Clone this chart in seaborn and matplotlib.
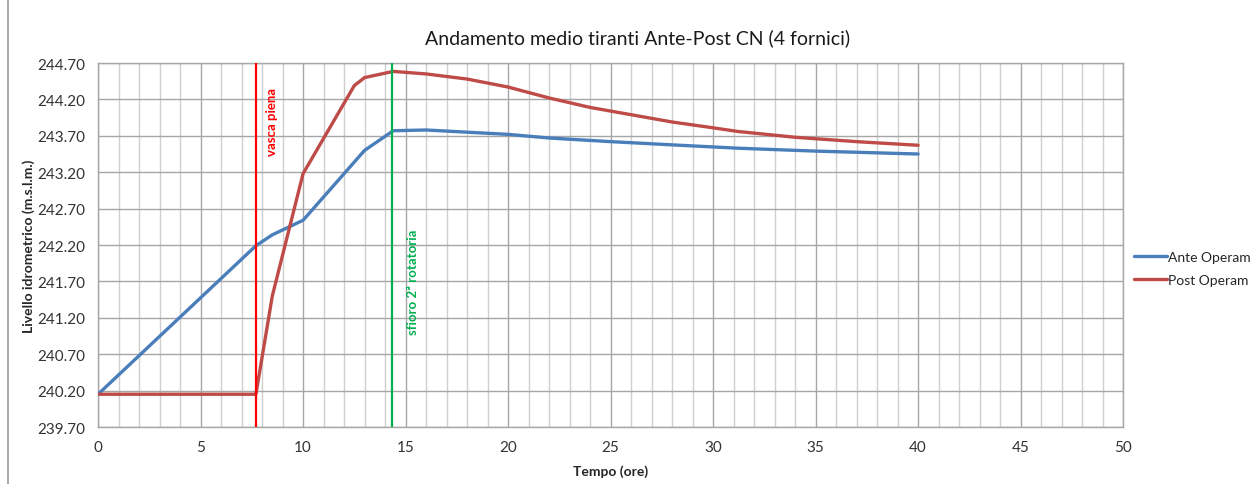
import numpy as np
import pandas as pd
import matplotlib
matplotlib.use("Agg")
import matplotlib.pyplot as plt
from matplotlib.ticker import MultipleLocator, FormatStrFormatter
from matplotlib.lines import Line2D
import seaborn as sns

# values
ante_t = [0, 7.7, 8.5, 10, 13, 14.4, 16, 18, 20, 22, 25, 28.4, 31.2, 35, 40]
ante_y = [240.15, 242.19, 242.34, 242.54, 243.50, 243.77, 243.78, 243.75, 243.72, 243.67, 243.62, 243.57, 243.53, 243.49, 243.45]

post_t = [0, 7.7, 8.5, 10, 12.5, 13, 14.4, 16, 18, 20, 22, 24, 26, 28, 30, 31.2, 34, 37, 40]
post_y = [240.15, 240.15, 241.50, 243.18, 244.39, 244.50, 244.585, 244.55, 244.48, 244.37, 244.22, 244.09, 243.99, 243.89, 243.81, 243.76, 243.68, 243.62, 243.57]

series_names = ["Ante Operam", "Post Operam"]
series_colors = ["#4A7EBB", "#BE4B48"]

event_t = [7.7, 14.35]
event_labels = ["vasca piena", "sfioro 2ª rotatoria"]
event_colors = ["#FF0000", "#00B050"]

y_ticks = [239.70, 240.20, 240.70, 241.20, 241.70, 242.20, 242.70, 243.20, 243.70, 244.20, 244.70]

df = pd.concat([
    pd.DataFrame({"Tempo": ante_t, "Livello": ante_y, "Serie": series_names[0]}),
    pd.DataFrame({"Tempo": post_t, "Livello": post_y, "Serie": series_names[1]}),
])

sns.set_theme(style="white")
plt.rcParams["font.family"] = ["Lato", "DejaVu Sans"]

fig = plt.figure(figsize=(12.57, 4.85), dpi=100)
ax = fig.add_axes([0.078, 0.1175, 0.8155, 0.7505])

grid_major = "#a6a6a6"
grid_minor = "#cfcfcf"

ax.set_xlim(0, 50)
ax.set_ylim(y_ticks[0], y_ticks[-1])
ax.xaxis.set_major_locator(MultipleLocator(5))
ax.xaxis.set_minor_locator(MultipleLocator(1))
ax.set_yticks(y_ticks)
ax.yaxis.set_major_formatter(FormatStrFormatter("%.2f"))
ax.grid(which="major", color=grid_major, lw=1.0)
ax.grid(which="minor", axis="x", color=grid_minor, lw=1.0)
ax.set_axisbelow(True)

sns.lineplot(data=df, x="Tempo", y="Livello", hue="Serie", palette=series_colors,
             sort=False, estimator=None, lw=2.4, ax=ax, legend=False, zorder=3)

for t, lab, c, ytxt, dx in zip(event_t, event_labels, event_colors, [244.37, 242.42], [0.5, 0.7]):
    ax.axvline(t, color=c, lw=1.6, zorder=4)
    ax.text(t + dx, ytxt, lab, rotation=90, color=c, fontsize=9.5, fontweight="bold",
            ha="left", va="top")

for s in ax.spines.values():
    s.set_color(grid_major)
    s.set_linewidth(1.0)
ax.tick_params(axis="both", which="major", direction="out", length=5, width=1,
               color=grid_major, labelsize=11, labelcolor="#333333", pad=4)
ax.tick_params(axis="x", which="minor", length=0)

ax.set_xlabel("Tempo (ore)", fontsize=10, fontweight="bold", labelpad=8)
ax.set_ylabel("Livello idrometrico (m.s.l.m.)", fontsize=10, fontweight="bold", labelpad=2)
fig.suptitle("Andamento medio tiranti Ante-Post CN (4 fornici)", x=0.507, y=0.94,
             fontsize=14, color="#1a1a1a")

handles = [Line2D([], [], color=c, lw=2.4) for c in series_colors]
fig.legend(handles, series_names, loc="center left", bbox_to_anchor=(0.892, 0.445),
           frameon=False, fontsize=10, handlelength=2.4, handletextpad=0.1,
           labelspacing=0.8)

# spreadsheet border on the left
fig.add_artist(Line2D([0.0065, 0.0065], [0, 1], color="#9a9a9a", lw=1.2))

fig.savefig("out.png", dpi=100)
